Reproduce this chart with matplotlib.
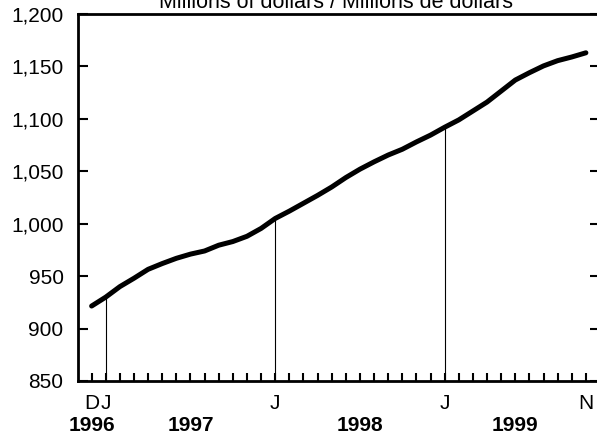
import matplotlib
matplotlib.use("Agg")
import matplotlib.pyplot as plt

plt.rcParams['font.family'] = ['Liberation Sans', 'DejaVu Sans']

# Monthly values, Dec 1996 .. Nov 1999 (millions of dollars)
months = ["D", "J", "F", "M", "A", "M", "J", "J", "A", "S", "O", "N",
          "D", "J", "F", "M", "A", "M", "J", "J", "A", "S", "O", "N",
          "D", "J", "F", "M", "A", "M", "J", "J", "A", "S", "O", "N"]
values = [921.5, 930, 940, 948, 956.5, 962, 967, 971, 974, 979.5, 983, 988,
          995.5, 1005, 1012, 1019.5, 1027, 1035, 1044, 1052, 1059, 1065.5, 1071, 1078,
          1084.5, 1092, 1099, 1107.5, 1116, 1126.5, 1137, 1144, 1150.5, 1155.5, 1159, 1163]
month_labels = {0: "D", 1: "J", 13: "J", 25: "J", 35: "N"}
year_labels = {0: "1996", 7: "1997", 19: "1998", 30: "1999"}
jan_idx = [1, 13, 25]
yticks = [850, 900, 950, 1000, 1050, 1100, 1150, 1200]
title = "Millions of dollars / Millions de dollars"

fig = plt.figure(figsize=(5.97, 4.37), dpi=100)
ax = fig.add_axes([77.5 / 597, 56 / 437, (600 - 77.5) / 597, (381 - 14) / 437])

x = list(range(len(values)))
ax.plot(x, values, color="black", lw=3.6, solid_capstyle="round", solid_joinstyle="round", zorder=3)
for i in jan_idx:
    ax.vlines(i, 850, values[i], color="black", lw=0.8, zorder=2)

fs = 15
ax.set_xlim(-1, 36)
ax.set_ylim(850, 1200)
ax.set_yticks(yticks)
ax.set_yticklabels([f"{v:,}" for v in yticks], fontsize=fs)
ax.tick_params(axis="y", direction="in", length=7, width=1.5, left=True, right=True, pad=10)
ax.set_xticks(x)
ax.set_xticklabels([])
ax.tick_params(axis="x", direction="in", length=6, width=1.5, bottom=True, top=False)

for s in ["left", "bottom", "top"]:
    ax.spines[s].set_linewidth(2)
ax.spines["right"].set_visible(False)

trans = ax.get_xaxis_transform()
for i, lab in month_labels.items():
    ax.text(i, -0.06, lab, transform=trans, ha="center", va="center", fontsize=fs)
for i, lab in year_labels.items():
    ax.text(i, -0.12, lab, transform=trans, ha="center", va="center", fontsize=fs, fontweight="bold")

fig.text(336 / 597, (437 - 8) / 437, title, ha="center", va="baseline", fontsize=15.5)

fig.savefig("out.png", dpi=100)
